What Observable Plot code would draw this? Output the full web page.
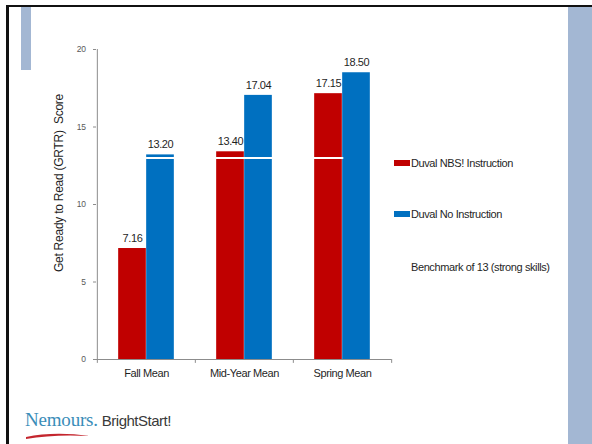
<!DOCTYPE html>
<html>
<head>
<meta charset="utf-8">
<script src="https://cdn.jsdelivr.net/npm/d3@7"></script>
<script src="https://cdn.jsdelivr.net/npm/@observablehq/plot@0.6"></script>
<style>
  html, body { margin: 0; padding: 0; background: #fff; }
  #slide {
    position: relative; width: 592px; height: 444px; overflow: hidden;
    background: #fff; font-family: "Liberation Sans Narrow", "Arial Narrow", "Liberation Sans", Arial, sans-serif;
  }
  #slide svg.chart { position: absolute; left: 0; top: 0; }
  #slide svg.chart text { letter-spacing: -0.4px; }
  .border-top { position: absolute; left: 6px; top: 5px; width: 586px; height: 2px; background: #111; }
  .border-left { position: absolute; left: 6px; top: 5px; width: 3px; height: 439px; background: #111; }
  .band-left { position: absolute; left: 21px; top: 7px; width: 10px; height: 63px; background: #a3b7d3; }
  .band-right { position: absolute; left: 568px; top: 7px; width: 24px; height: 437px; background: #a3b7d3; }
  .ylabel {
    position: absolute; left: 59px; top: 183px; white-space: pre;
    transform: translate(-50%, -50%) rotate(-90deg);
    font-size: 12px; color: #1f1f1f; letter-spacing: -0.25px;
  }
  .legend-item { position: absolute; left: 394px; font-size: 11px; color: #1f1f1f; white-space: nowrap; line-height: 11px; letter-spacing: -0.4px; }
  .legend-item .sw { display: inline-block; width: 16px; height: 6px; margin-right: 1px; vertical-align: 1px; }
  .logo { position: absolute; left: 25px; top: 409px; white-space: nowrap; }
  .logo .nem { font-family: "Liberation Serif", "DejaVu Serif", serif; font-size: 19px; color: #3a8db8; letter-spacing: -0.2px; }
  .logo .bs { font-size: 15px; color: #3a3a3a; margin-left: 4px; letter-spacing: -0.5px; }
  .swoosh { position: absolute; left: 24px; top: 430px; }
</style>
</head>
<body>
<div id="slide">
  <div class="border-top"></div>
  <div class="border-left"></div>
  <div class="band-left"></div>
  <div class="band-right"></div>
</div>
<script>
// Survey periods and the two groups' mean GRTR scores
const periods = ["Fall Mean", "Mid-Year Mean", "Spring Mean"];
const nbsInstruction = [7.16, 13.40, 17.15];
const noInstruction = [13.20, 17.04, 18.50];
const benchmark = [13, 13, 13];
const yTicks = [0, 5, 10, 15, 20];

const seriesNames = ["Duval NBS! Instruction", "Duval No Instruction", "Benchmark of 13 (strong skills)"];
const seriesColors = ["#c00000", "#0070c0", "#ffffff"];

const nbsRows = periods.map((p, i) => ({period: p, value: nbsInstruction[i]}));
const noRows = periods.map((p, i) => ({period: p, value: noInstruction[i]}));
const benchRows = periods.map((p, i) => ({period: p, value: benchmark[i]}));

const W = 592, H = 444;
const margin = {left: 96, right: 201, top: 49, bottom: 85};
const bw = (W - margin.left - margin.right) / periods.length; // category band width
const groupWidth = 56;
const side = (bw - groupWidth) / 2;
const axisGrey = "#8c8c8c";
const font = "'Liberation Sans Narrow', 'Arial Narrow', 'Liberation Sans', Arial, sans-serif";

const chart = Plot.plot({
  width: W,
  height: H,
  marginLeft: margin.left,
  marginRight: margin.right,
  marginTop: margin.top,
  marginBottom: margin.bottom,
  className: "chart",
  style: {fontFamily: font, background: "transparent", overflow: "visible"},
  x: {domain: periods, padding: 0, axis: null},
  y: {domain: [0, 20], axis: null},
  marks: [
    Plot.barY(nbsRows, {x: "period", y: "value", fill: seriesColors[0], insetLeft: side, insetRight: bw / 2}),
    Plot.barY(noRows, {x: "period", y: "value", fill: seriesColors[1], insetLeft: bw / 2, insetRight: side}),
    Plot.line(benchRows, {x: "period", y: "value", stroke: seriesColors[2], strokeWidth: 2}),
    // axis lines and category boundary ticks
    Plot.ruleY([0], {stroke: axisGrey}),
    Plot.ruleX([periods[0]], {dx: -bw / 2, y1: 0, y2: 20, stroke: axisGrey}),
    Plot.ruleX(periods, {dx: -bw / 2, y1: 0, y2: -0.25, stroke: axisGrey}),
    Plot.ruleX([periods[periods.length - 1]], {dx: bw / 2, y1: 0, y2: -0.25, stroke: axisGrey}),
    Plot.axisY({ticks: yTicks, tickSize: 3, tickPadding: 8, label: null, fontSize: 8.5, color: "#595959", stroke: axisGrey}),
    Plot.axisX({tickSize: 0, tickPadding: 10, label: null, fontSize: 11, color: "#1f1f1f"}),
    // value labels
    Plot.text(nbsRows, {x: "period", y: "value", text: d => d.value.toFixed(2), dx: -(groupWidth / 4), dy: -10, fontSize: 11, fill: "#1f1f1f"}),
    Plot.text(noRows, {x: "period", y: "value", text: d => d.value.toFixed(2), dx: groupWidth / 4, dy: -10, fontSize: 11, fill: "#1f1f1f"})
  ]
});
const slide = document.getElementById("slide");
slide.insertBefore(chart, slide.querySelector(".border-top"));

// Axis title
const yl = document.createElement("div");
yl.className = "ylabel";
yl.textContent = "Get Ready to Read (GRTR)  Score";
slide.appendChild(yl);

// Legend
const legendTops = [158, 209, 262];
seriesNames.forEach((name, i) => {
  const item = document.createElement("div");
  item.className = "legend-item";
  item.style.top = legendTops[i] + "px";
  const sw = document.createElement("span");
  sw.className = "sw";
  sw.style.background = seriesColors[i];
  item.appendChild(sw);
  item.appendChild(document.createTextNode(name));
  slide.appendChild(item);
});

// Logo
const logo = document.createElement("div");
logo.className = "logo";
logo.innerHTML = '<span class="nem">Nemours.</span><span class="bs">BrightStart!</span>';
slide.appendChild(logo);
const swoosh = d3.create("svg").attr("class", "swoosh").attr("width", 80).attr("height", 10);
swoosh.append("path").attr("d", "M2,7 Q30,1 66,6 Q30,4 2,9 Z").attr("fill", "#c4262e");
slide.appendChild(swoosh.node());
</script>
</body>
</html>
